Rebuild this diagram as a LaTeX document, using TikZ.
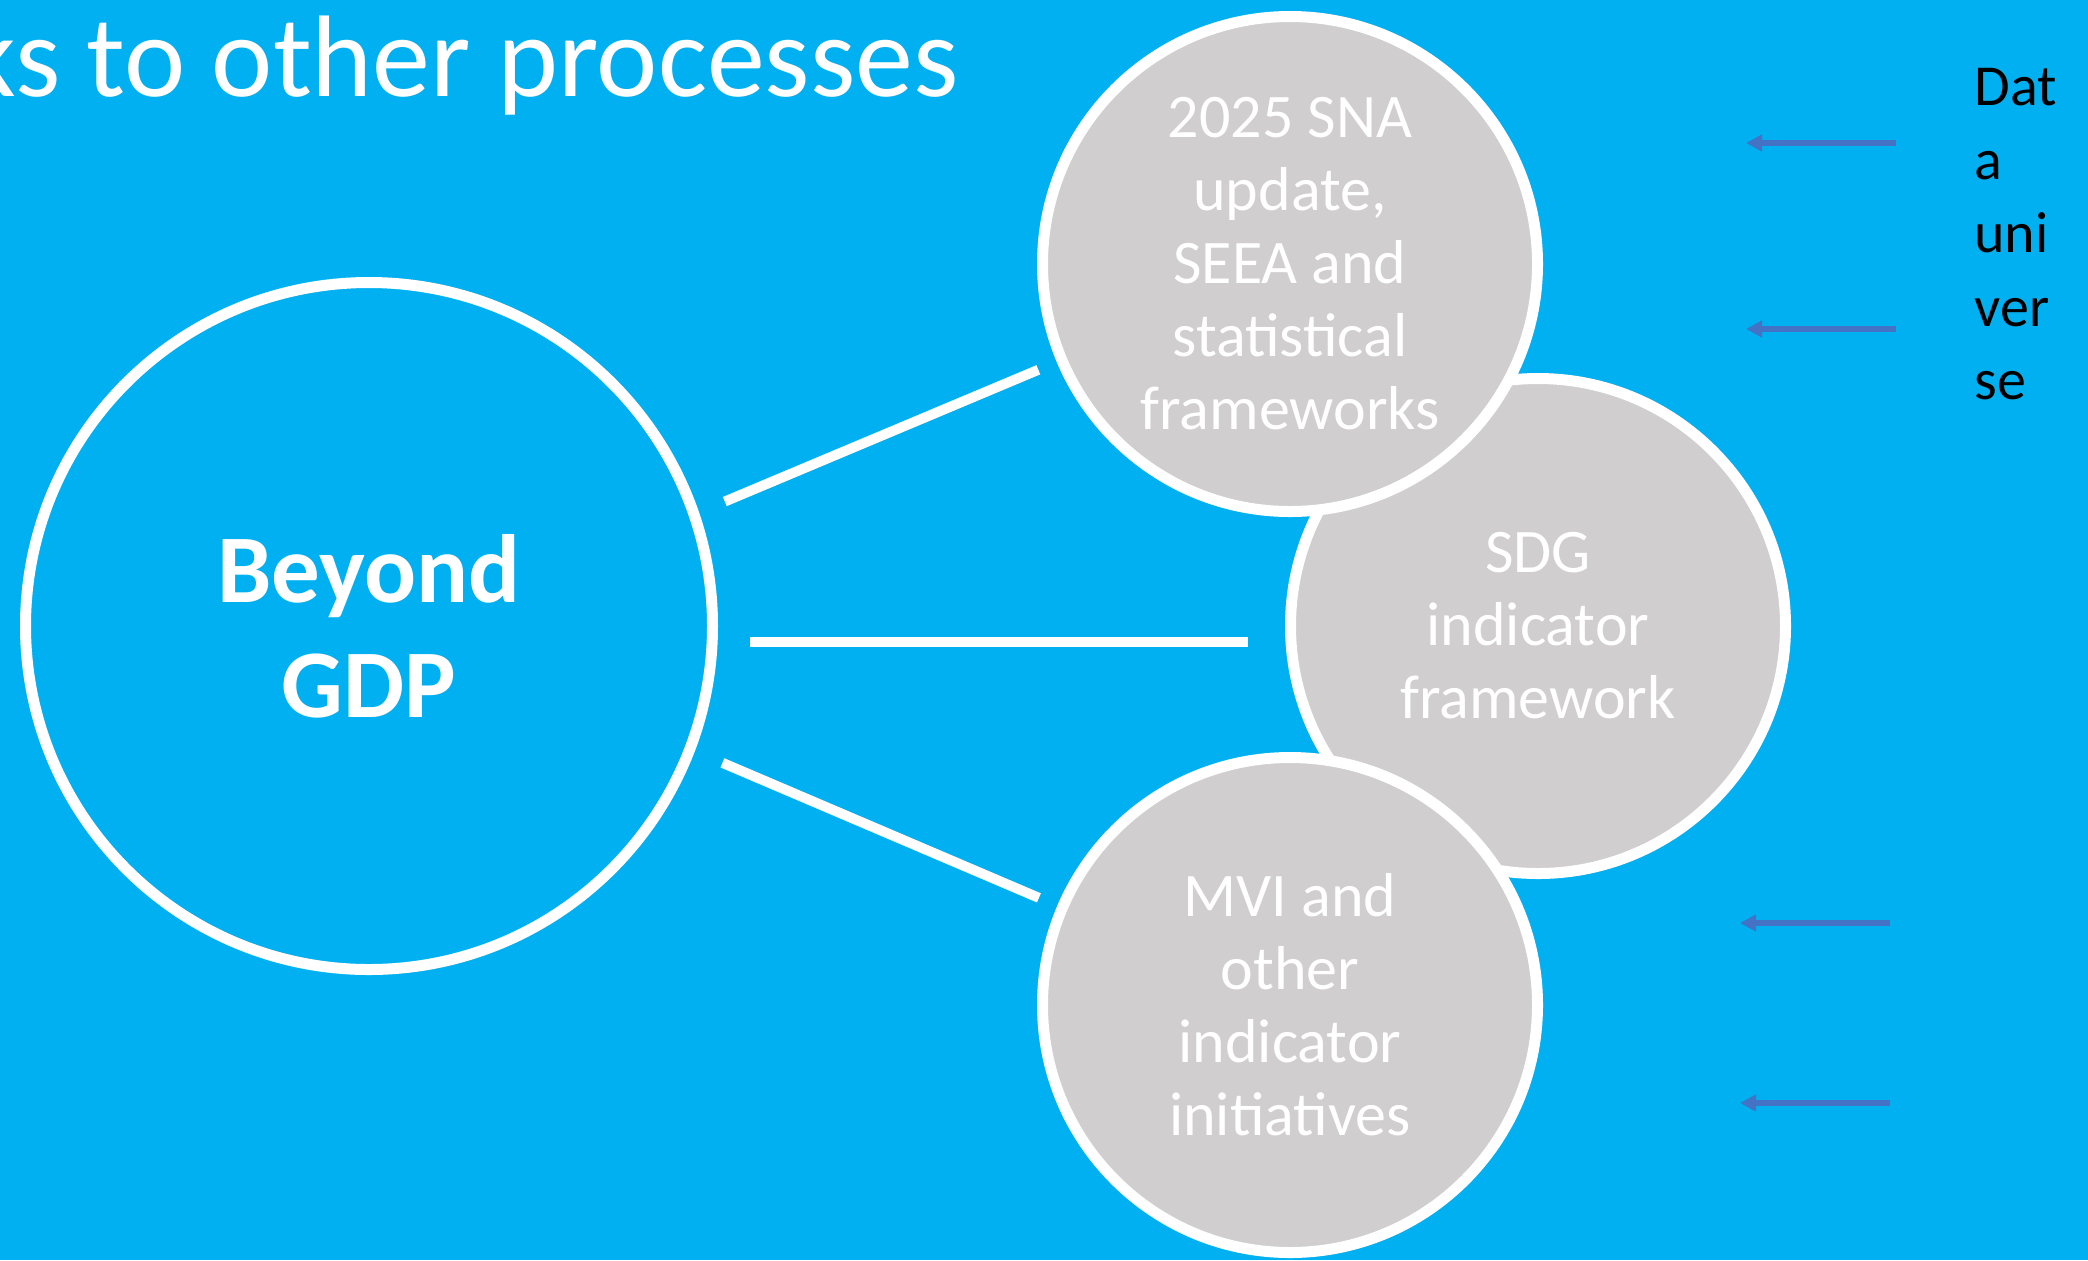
\documentclass[tikz,border=0pt]{standalone}
\usepackage{fontspec}
\setmainfont{Carlito}
\usetikzlibrary{arrows.meta}
\definecolor{slideblue}{HTML}{00B0F0}
\definecolor{bubblegrey}{HTML}{D0CECE}
\definecolor{feedblue}{HTML}{4472C4}
\tikzstyle{bubble} =
        [
                circle,
                draw = white,
                fill = bubblegrey,
                line width = 5.5pt,
                text = white,
                align = center,
                inner sep = 0pt,
                % text width = 10em,
                minimum size = 247.5pt,
                font = \fontsize{31pt}{36.5pt}\selectfont
        ]
\tikzstyle{hub} =
        [
                circle,
                draw = white,
                line width = 5.5pt,
                text = white,
                align = center,
                inner sep = 0pt,
                minimum size = 343.5pt,
                font = \bfseries\fontsize{48.5pt}{57.5pt}\selectfont
        ]
\tikzstyle{link} =
        [
                line width = 5pt,
                draw = white,
                shorten <= 14pt,
                shorten >= 10pt
        ]
\tikzstyle{feed} =
        [
                line width = 2.7pt,
                draw = feedblue,
                -{Triangle[length=8pt, width=8pt]}
        ]

\begin{document}
\begin{tikzpicture}[x=0.5pt, y=-0.5pt]
    \fill [slideblue] (0,0) rectangle (2088,1260);
    \useasboundingbox (0,0) rectangle (2088,1260);
    \node [anchor=base east, inner sep=0pt, text=white, font=\fontsize{58pt}{70pt}\selectfont] (title) at (959,96) {ks to other processes};
    \node [hub] (gdp) at (369,626) {Beyond\\GDP};
    \node [bubble] (sdg) at (1538,626) {SDG\\indicator\\framework};
    \node [bubble] (sna) at (1290,264) {2025 SNA\\update,\\SEEA and\\statistical\\frameworks};
    \node [bubble] (mvi) at (1290,1005) {MVI and\\other\\indicator\\initiatives};
     \path [link] (gdp.19) -- (sna);
     \path [link, shorten <= 16pt, shorten >= 18.5pt] ([yshift=-8pt]gdp.east) -- ([yshift=-8pt]sdg.west);
     \path [link, shorten <= 15pt] (gdp.-21) -- (mvi);
    % data universe and its arrows
    \node [anchor=north west, inner sep=0pt, align=left, font=\fontsize{29pt}{36.75pt}\selectfont] (data) at (1974,68) {Dat\\a\\uni\\ver\\se};
    \coordinate (d1) at (1896,143);
    \coordinate (d2) at (1896,329);
    \coordinate (d3) at (1890,923);
    \coordinate (d4) at (1890,1103);
    \coordinate (e1) at (1746,143);
    \coordinate (e2) at (1746,329);
    \coordinate (e3) at (1740,923);
    \coordinate (e4) at (1740,1103);
     \path [feed] (d1) -- (e1);
     \path [feed] (d2) -- (e2);
     \path [feed] (d3) -- (e3);
     \path [feed] (d4) -- (e4);
\end{tikzpicture}
\end{document}
